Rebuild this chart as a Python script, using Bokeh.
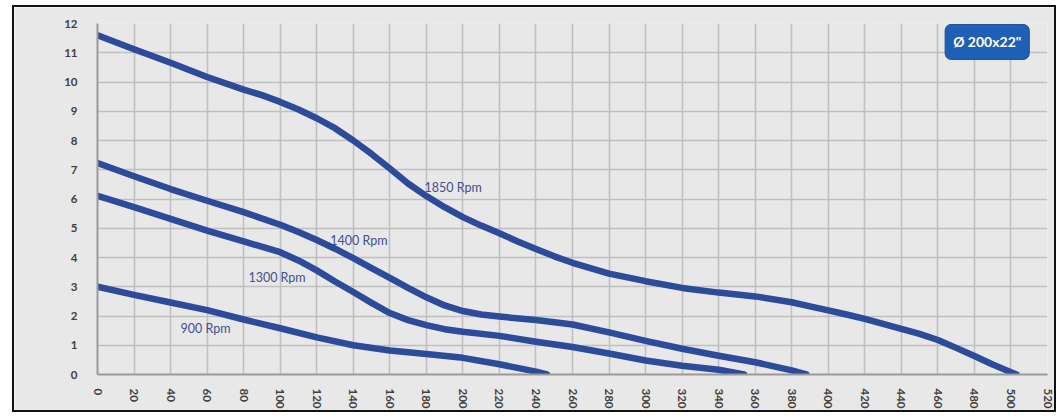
from bokeh.plotting import figure
from bokeh.models import Label, FixedTicker
from bokeh.embed import file_html
from bokeh.resources import INLINE

# Flow (x) vs head (y) for each speed
x_1850 = [0, 20, 40, 60, 80, 90, 100, 110, 120, 130, 140, 150, 160, 170, 180, 190, 200, 210, 220, 230, 240, 250, 260,
          280, 300, 320, 340, 360, 380, 390, 400, 410, 420, 430, 440, 450, 460, 470, 480, 490, 500, 503]
y_1850 = [11.6, 11.12, 10.66, 10.17, 9.74, 9.55, 9.32, 9.06, 8.76, 8.42, 8.0, 7.54, 7.04, 6.53, 6.1, 5.72, 5.38, 5.09, 4.83, 4.55, 4.29, 4.04, 3.82,
          3.45, 3.19, 2.96, 2.8, 2.67, 2.47, 2.33, 2.19, 2.05, 1.9, 1.73, 1.56, 1.39, 1.18, 0.91, 0.63, 0.34, 0.08, 0.0]

x_1400 = [0, 20, 40, 60, 80, 100, 110, 120, 130, 140, 150, 160, 170, 180, 190, 200, 210, 220, 240, 260, 280, 300, 320, 340, 360, 380, 388]
y_1400 = [7.23, 6.78, 6.34, 5.94, 5.55, 5.12, 4.87, 4.6, 4.3, 3.98, 3.64, 3.3, 2.96, 2.64, 2.36, 2.17, 2.05, 1.98, 1.86, 1.71, 1.44, 1.15, 0.88, 0.64, 0.42, 0.14, 0.0]

x_1300 = [0, 20, 40, 60, 80, 100, 110, 120, 130, 140, 150, 160, 170, 180, 190, 200, 220, 240, 260, 280, 300, 320, 340, 354]
y_1300 = [6.11, 5.72, 5.32, 4.92, 4.55, 4.18, 3.9, 3.56, 3.18, 2.82, 2.45, 2.1, 1.86, 1.69, 1.55, 1.46, 1.32, 1.12, 0.94, 0.72, 0.48, 0.3, 0.16, 0.0]

x_900 = [0, 20, 40, 60, 80, 100, 120, 140, 160, 180, 200, 220, 240, 246]
y_900 = [3.0, 2.72, 2.46, 2.2, 1.88, 1.58, 1.27, 1.0, 0.82, 0.7, 0.57, 0.35, 0.1, 0.0]

labels = ["1850 Rpm", "1400 Rpm", "1300 Rpm", "900 Rpm"]
label_x = [179, 127.4, 82.6, 45.4]
label_y = [6.4, 4.58, 3.33, 1.57]

x_ticks = list(range(0, 521, 20))
y_ticks = list(range(0, 13))
badge_text = "Ø 200x22\""

LINE = "#2d4b9b"
BG = "#e8e8e8"

p = figure(width=1044, height=407, x_range=(0, 520), y_range=(0, 12),
           output_backend="svg", toolbar_location=None,
           background_fill_color=BG, border_fill_color=BG,
           styles={"border": "2px solid #111", "margin-left": "12px", "margin-top": "5px"})
p.min_border_left = 83
p.min_border_right = 11
p.min_border_top = 16
p.min_border_bottom = 40
p.outline_line_color = None

for xs, ys in [(x_1850, y_1850), (x_1400, y_1400), (x_1300, y_1300), (x_900, y_900)]:
    p.line(xs, ys, line_color=LINE, line_width=6.5, line_join="round", line_cap="round")

for t, lx, ly in zip(labels, label_x, label_y):
    p.add_layout(Label(x=lx, y=ly, text=t, text_font="Lato", text_font_size="12.5px",
                       text_color="#3f4f93", text_baseline="middle", text_align="left"))

p.add_layout(Label(x=487, y=11.37, text=badge_text, text_font="Lato", text_font_size="14px",
                   text_font_style="bold", text_color="white", text_align="center",
                   text_baseline="middle", background_fill_color="#1f5fb5",
                   border_line_color="#1a4f99", border_radius=6, padding=(8, 9)))

p.xaxis.ticker = FixedTicker(ticks=x_ticks)
p.yaxis.ticker = FixedTicker(ticks=y_ticks)
p.xgrid.ticker = FixedTicker(ticks=x_ticks)
p.ygrid.ticker = FixedTicker(ticks=y_ticks)
for g in (p.xgrid, p.ygrid):
    g.grid_line_color = "#c0c0c0"
    g.grid_line_width = 1.6

for ax in (p.xaxis, p.yaxis):
    ax.major_tick_line_color = None
    ax.minor_tick_line_color = None
    ax.axis_line_color = "#9a9a9a"
    ax.axis_line_width = 2
    ax.major_label_text_font = "Lato"
    ax.major_label_text_font_style = "bold"
    ax.major_label_text_font_size = "11.5px"
    ax.major_label_text_color = "#404040"
p.xaxis.major_label_orientation = "vertical"
p.xaxis.major_label_standoff = 8
p.yaxis.major_label_standoff = 14

open("out.html", "w").write(file_html(p, INLINE))
